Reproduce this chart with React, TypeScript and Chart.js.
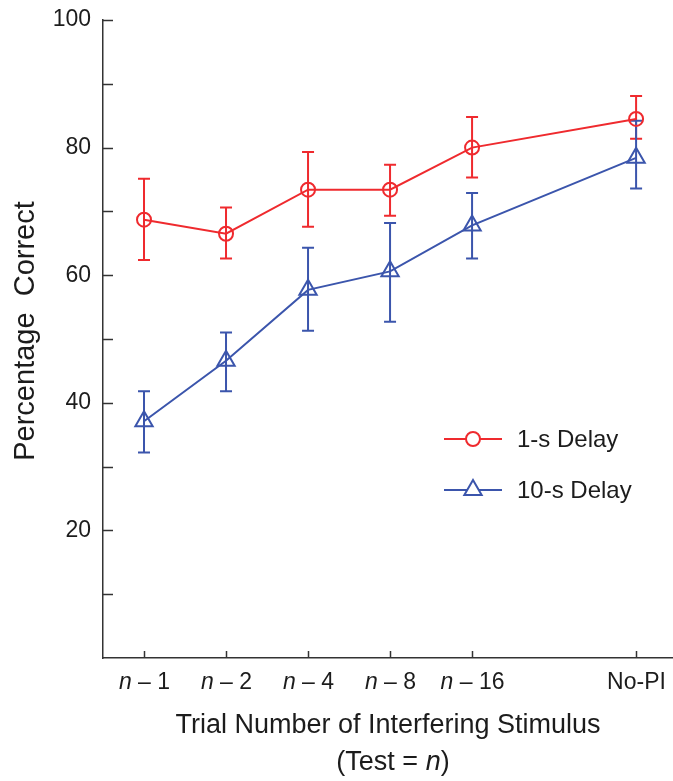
import React, { useEffect, useRef } from 'react';
import { Chart, registerables } from 'chart.js';

Chart.register(...registerables);

// ---- data ----
const categories = ['n – 1', 'n – 2', 'n – 4', 'n – 8', 'n – 16', 'No-PI'];
const categorySlots = [0, 1, 2, 3, 4, 6];

const delay1Mean = [68.7, 66.5, 73.4, 73.4, 80.0, 84.5];
const delay1Upper = [75.1, 70.6, 79.3, 77.3, 84.8, 88.1];
const delay1Lower = [62.4, 62.6, 67.6, 69.3, 75.3, 81.4];

const delay10Mean = [37.1, 46.6, 57.7, 60.6, 67.8, 78.4];
const delay10Upper = [41.8, 51.0, 64.3, 68.2, 72.9, 84.2];
const delay10Lower = [32.2, 41.8, 51.3, 52.7, 62.6, 73.6];

const seriesNames = ['1-s Delay', '10-s Delay'];
const yAxisTitle = 'Percentage  Correct';
const xAxisTitle = 'Trial Number of Interfering Stimulus';

const RED = '#ef2a2e';
const BLUE = '#3b55ac';
const TEXT = '#1c1c1c';
const AXIS = '#333333';
const FONT = "'Liberation Sans', Arial, Helvetica, sans-serif";

type Part = { text: string; italic?: boolean };

function splitLabel(label: string): Part[] {
  if (label.startsWith('n ')) return [{ text: 'n', italic: true }, { text: label.slice(1) }];
  return [{ text: label }];
}

function drawParts(ctx: CanvasRenderingContext2D, parts: Part[], cx: number, baseline: number, size: number) {
  const fontFor = (p: Part) => `${p.italic ? 'italic ' : ''}${size}px ${FONT}`;
  let total = 0;
  const widths = parts.map((p) => {
    ctx.font = fontFor(p);
    const w = ctx.measureText(p.text).width;
    total += w;
    return w;
  });
  let x = cx - total / 2;
  ctx.textAlign = 'left';
  ctx.textBaseline = 'alphabetic';
  ctx.fillStyle = TEXT;
  parts.forEach((p, i) => {
    ctx.font = fontFor(p);
    ctx.fillText(p.text, x, baseline);
    x += widths[i];
  });
}

function markerPath(ctx: CanvasRenderingContext2D, style: string, x: number, y: number, r: number) {
  ctx.beginPath();
  if (style === 'triangle') {
    let rad = 0;
    ctx.moveTo(x + Math.sin(rad) * r, y - Math.cos(rad) * r);
    rad += (2 * Math.PI) / 3;
    ctx.lineTo(x + Math.sin(rad) * r, y - Math.cos(rad) * r);
    rad += (2 * Math.PI) / 3;
    ctx.lineTo(x + Math.sin(rad) * r, y - Math.cos(rad) * r);
    ctx.closePath();
  } else {
    ctx.arc(x, y, r, 0, Math.PI * 2);
  }
}

const errorBarPlugin = {
  id: 'errorBars',
  beforeDatasetsDraw(chart: any) {
    const { ctx, scales } = chart;
    const yScale = scales.y;
    chart.data.datasets.forEach((ds: any, i: number) => {
      const meta = chart.getDatasetMeta(i);
      ctx.save();
      ctx.strokeStyle = ds.borderColor;
      ctx.lineWidth = 2;
      meta.data.forEach((pt: any, j: number) => {
        const x = pt.x;
        const yU = yScale.getPixelForValue(ds.errUpper[j]);
        const yL = yScale.getPixelForValue(ds.errLower[j]);
        const cap = 6;
        ctx.beginPath();
        ctx.moveTo(x, yU);
        ctx.lineTo(x, yL);
        ctx.moveTo(x - cap, yU);
        ctx.lineTo(x + cap, yU);
        ctx.moveTo(x - cap, yL);
        ctx.lineTo(x + cap, yL);
        ctx.stroke();
      });
      ctx.restore();
    });
  },
};

const axisDecorPlugin = {
  id: 'axisDecor',
  afterDraw(chart: any) {
    const { ctx, scales, chartArea } = chart;
    const xs = scales.x;
    const ys = scales.y;
    ctx.save();
    ctx.strokeStyle = AXIS;
    ctx.lineWidth = 1.5;
    // inward y ticks
    ys.ticks.forEach((t: any) => {
      if (t.value <= ys.min) return;
      const y = Math.round(ys.getPixelForValue(t.value)) + 0.5;
      ctx.beginPath();
      ctx.moveTo(chartArea.left, y);
      ctx.lineTo(chartArea.left + 10, y);
      ctx.stroke();
    });
    // inward x ticks + labels
    categorySlots.forEach((slot, i) => {
      const x = Math.round(xs.getPixelForValue(slot)) + 0.5;
      ctx.beginPath();
      ctx.moveTo(x, chartArea.bottom);
      ctx.lineTo(x, chartArea.bottom - 7);
      ctx.stroke();
      drawParts(ctx, splitLabel(categories[i]), x, chartArea.bottom + 31, 23);
    });
    // x titles
    const cx = (chartArea.left + chartArea.right) / 2;
    drawParts(ctx, [{ text: xAxisTitle }], cx, chartArea.bottom + 75, 27);
    drawParts(ctx, [{ text: '(Test = ' }, { text: 'n', italic: true }, { text: ')' }], cx + 5, chartArea.bottom + 112, 27);

    // y title (rotated)
    ctx.save();
    ctx.translate(34, 331);
    ctx.rotate(-Math.PI / 2);
    ctx.fillStyle = TEXT;
    ctx.font = `29px ${FONT}`;
    ctx.textAlign = 'center';
    ctx.textBaseline = 'alphabetic';
    ctx.fillText(yAxisTitle, 0, 0);
    ctx.restore();

    // legend
    const legendRows = [439, 490];
    chart.data.datasets.forEach((ds: any, i: number) => {
      const y = legendRows[i];
      ctx.strokeStyle = ds.borderColor;
      ctx.lineWidth = 2;
      ctx.beginPath();
      ctx.moveTo(444, y);
      ctx.lineTo(502, y);
      ctx.stroke();
      markerPath(ctx, ds.pointStyle, 473, y, ds.pointRadius);
      ctx.fillStyle = '#ffffff';
      ctx.fill();
      ctx.stroke();
      ctx.fillStyle = TEXT;
      ctx.font = `24px ${FONT}`;
      ctx.textAlign = 'left';
      ctx.textBaseline = 'middle';
      ctx.fillText(ds.label, 517, y + 1);
    });
    ctx.restore();
  },
};

export default function App() {
  const ref = useRef<HTMLCanvasElement | null>(null);

  useEffect(() => {
    if (!ref.current) return;
    const toPoints = (vals: number[]) => vals.map((v, i) => ({ x: categorySlots[i], y: v }));
    const chart = new Chart(ref.current, {
      type: 'line',
      data: {
        datasets: [
          {
            label: seriesNames[0],
            data: toPoints(delay1Mean),
            borderColor: RED,
            backgroundColor: 'rgba(0,0,0,0)',
            pointBackgroundColor: 'rgba(0,0,0,0)',
            pointBorderColor: RED,
            pointStyle: 'circle',
            pointRadius: 7,
            pointBorderWidth: 2,
            borderWidth: 2,
            tension: 0,
            errUpper: delay1Upper,
            errLower: delay1Lower,
          } as any,
          {
            label: seriesNames[1],
            data: toPoints(delay10Mean),
            borderColor: BLUE,
            backgroundColor: 'rgba(0,0,0,0)',
            pointBackgroundColor: 'rgba(0,0,0,0)',
            pointBorderColor: BLUE,
            pointStyle: 'triangle',
            pointRadius: 10,
            pointBorderWidth: 2,
            borderWidth: 2,
            tension: 0,
            errUpper: delay10Upper,
            errLower: delay10Lower,
          } as any,
        ],
      },
      options: {
        animation: false,
        responsive: false,
        layout: { autoPadding: false, padding: { top: 20, right: 0, bottom: 0, left: 0 } },
        plugins: {
          legend: { display: false },
          tooltip: { enabled: false },
        },
        scales: {
          x: {
            type: 'linear',
            min: -0.5,
            max: 6.45,
            grid: { display: false, drawTicks: false },
            border: { display: true, color: AXIS, width: 1.5 },
            ticks: { display: false },
            afterFit: (s: any) => {
              s.height = 123;
              s.paddingLeft = 0;
              s.paddingRight = 0;
            },
          },
          y: {
            min: 0,
            max: 100,
            grid: { display: false, drawTicks: false },
            border: { display: true, color: AXIS, width: 1.5 },
            ticks: {
              stepSize: 10,
              padding: 12,
              color: TEXT,
              font: { family: FONT, size: 23 },
              callback: (v: any) => (v % 20 === 0 && v > 0 ? String(v) : ''),
            },
            title: { display: false },
            afterFit: (s: any) => {
              s.width = 103;
              s.paddingTop = 0;
              s.paddingBottom = 0;
            },
          },
        },
      } as any,
      plugins: [errorBarPlugin, axisDecorPlugin],
    });
    return () => chart.destroy();
  }, []);

  return (
    <div style={{ position: 'absolute', left: 0, top: 0, width: 673, height: 781, background: '#ffffff' }}>
      <canvas ref={ref} width={673} height={781} style={{ display: 'block' }} />
    </div>
  );
}
